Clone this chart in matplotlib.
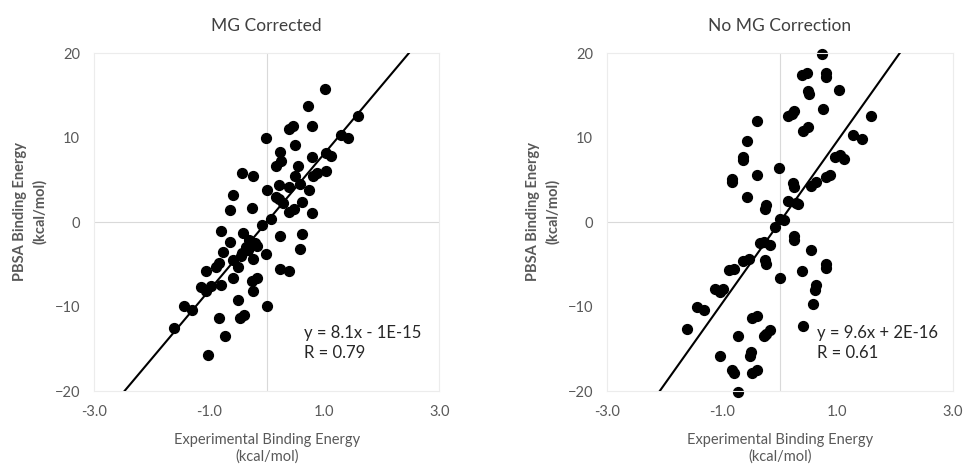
import matplotlib
matplotlib.use('Agg')
import matplotlib.pyplot as plt

plt.rcParams['font.family'] = ['Lato', 'DejaVu Sans']

# MG corrected: experimental vs PBSA binding energy (kcal/mol)
mg_x = [1.01, 0.71, 1.59, 0.38, 0.45, 0.79, 1.29, 1.42, -0.01, 0.49, 0.23, 1.03, 1.12,
        0.79, 0.24, 0.17, 0.54, -0.42, -0.24, 0.49, 0.87, 0.80, 1.03, 0.22, 0.39, 0.57,
        0.73, 0.00, -0.58, 0.16, 0.22, 0.29, 0.62, -0.26, -0.64, 0.48, 0.39, 0.79, 0.08,
        -0.09, -0.80, -0.41, 0.62, 0.23, -0.64, -0.30, -0.21, -0.17, -0.75, -0.36, -0.42,
        0.57, -0.01, -0.23, -0.59, -0.49, -0.82, -0.88, -1.05, 0.23, 0.39, -0.58, -0.17,
        -0.26, -1.14, -0.97, -0.80, -1.05, -0.24, -0.50, 0.00, -1.44, -1.29, -0.39, -0.47,
        -0.82, -1.61, -0.73, -1.02, -0.33, -0.45]
mg_y = [15.8, 13.7, 12.5, 11.0, 11.4, 11.4, 10.3, 10.0, 9.9, 9.1, 8.3, 8.2, 7.8,
        7.7, 7.2, 6.6, 6.6, 5.8, 5.5, 5.4, 5.8, 5.4, 6.0, 4.4, 4.2, 4.5,
        3.8, 3.8, 3.2, 3.0, 2.7, 2.3, 2.4, 1.7, 1.4, 1.6, 1.2, 1.1, 0.4,
        -0.4, -1.1, -1.3, -1.4, -1.7, -2.3, -2.1, -2.5, -2.8, -3.6, -2.9, -3.7,
        -3.2, -3.8, -4.4, -4.5, -5.3, -4.9, -5.3, -5.8, -5.5, -5.8, -6.6, -6.6,
        -7.0, -7.7, -7.6, -7.5, -8.1, -8.1, -9.2, -9.9, -9.9, -10.4, -11.0, -11.3,
        -11.3, -12.5, -13.5, -15.7, -3.3, -4.0]

# No MG correction
nomg_x = [0.73, 0.38, 0.47, 0.80, 0.80, 1.03, 0.49, 0.50, 0.75, 0.15, 0.24, 0.21, -0.40,
          1.58, 0.41, 0.49, 1.28, 1.42, -0.57, -0.64, -0.63, 0.96, 1.05, 1.12, -0.01,
          -0.82, -0.82, -0.39, 0.80, 0.87, 0.23, 0.24, 0.54, 0.63, -0.57, -0.24, -0.25,
          0.15, 0.29, 0.32, 0.01, 0.08, -0.08, 0.24, 0.24, -0.34, -0.27, -0.17, 0.55,
          -0.25, -0.24, -0.63, -0.54, 0.80, 0.80, -0.88, -0.80, 0.39, 0.01, -1.13, -1.03,
          -0.98, 0.63, 0.62, -1.44, -1.31, 0.57, -0.48, -0.40, -1.61, 0.40, -0.17, -0.23,
          -0.27, -0.73, -1.03, -0.50, -0.51, -0.82, -0.80, -0.48, -0.39, -0.72]
nomg_y = [19.9, 17.4, 17.7, 17.6, 17.2, 15.6, 15.5, 15.1, 13.4, 12.5, 13.1, 12.8, 12.0,
          12.5, 10.8, 11.2, 10.3, 9.8, 9.6, 7.7, 7.3, 7.7, 7.9, 7.5, 6.4,
          5.1, 4.7, 5.6, 5.3, 5.6, 4.6, 4.2, 4.3, 4.7, 3.0, 2.0, 1.5,
          2.5, 2.3, 2.1, 0.4, 0.2, -0.6, -1.7, -2.1, -2.5, -2.3, -2.7, -3.3,
          -4.5, -5.0, -4.6, -4.4, -5.0, -5.4, -5.7, -5.5, -5.8, -6.6, -7.9, -8.3,
          -7.9, -7.5, -8.0, -10.1, -10.4, -9.7, -11.3, -11.1, -12.6, -12.3, -12.8, -13.3,
          -13.5, -13.5, -15.8, -15.4, -15.8, -17.5, -17.9, -17.9, -17.5, -20.1]

panels = [
    ('MG Corrected', mg_x, mg_y, 8.1, 'y = 8.1x - 1E-15\nR = 0.79', 0.097),
    ('No MG Correction', nomg_x, nomg_y, 9.6, 'y = 9.6x + 2E-16\nR = 0.61', 0.627),
]

grey = '#595959'
fig = plt.figure(figsize=(9.68, 4.74), dpi=100)

for title, xs, ys, slope, eq, left in panels:
    ax = fig.add_axes([left, 0.175, 0.357, 0.713])
    ax.set_xlim(-3, 3)
    ax.set_ylim(-20, 20)
    ax.axhline(0, color='#d9d9d9', lw=0.8, zorder=0)
    ax.axvline(0, color='#d9d9d9', lw=0.8, zorder=0)
    ax.scatter(xs, ys, s=50, color='black', zorder=2, clip_on=False)
    # trendline across the plot
    x0, x1 = -20 / slope, 20 / slope
    ax.plot([x0, x1], [slope * x0, slope * x1], color='black', lw=1.5, zorder=3)
    ax.set_xticks([-3, -1, 1, 3])
    ax.set_xticklabels(['-3.0', '-1.0', '1.0', '3.0'])
    ax.set_yticks([-20, -10, 0, 10, 20])
    ax.tick_params(length=0, labelsize=10.5, colors=grey, pad=10)
    for sp in ax.spines.values():
        sp.set_color('#ececec')
        sp.set_linewidth(0.8)
    ax.set_title(title, fontsize=12.5, color='#404040', pad=16)
    ax.set_xlabel('Experimental Binding Energy\n(kcal/mol)', fontsize=10.5,
                  color=grey, labelpad=10, linespacing=1.25)
    ax.set_ylabel('PBSA Binding Energy\n(kcal/mol)', fontsize=10.5, color=grey,
                  fontweight='bold', linespacing=1.5)
    ax.yaxis.set_label_coords(-0.135, 0.53)
    ax.text(0.65, -12.2, eq, fontsize=12, color='#262626', va='top', linespacing=1.3)

fig.savefig('out.png', dpi=100)
